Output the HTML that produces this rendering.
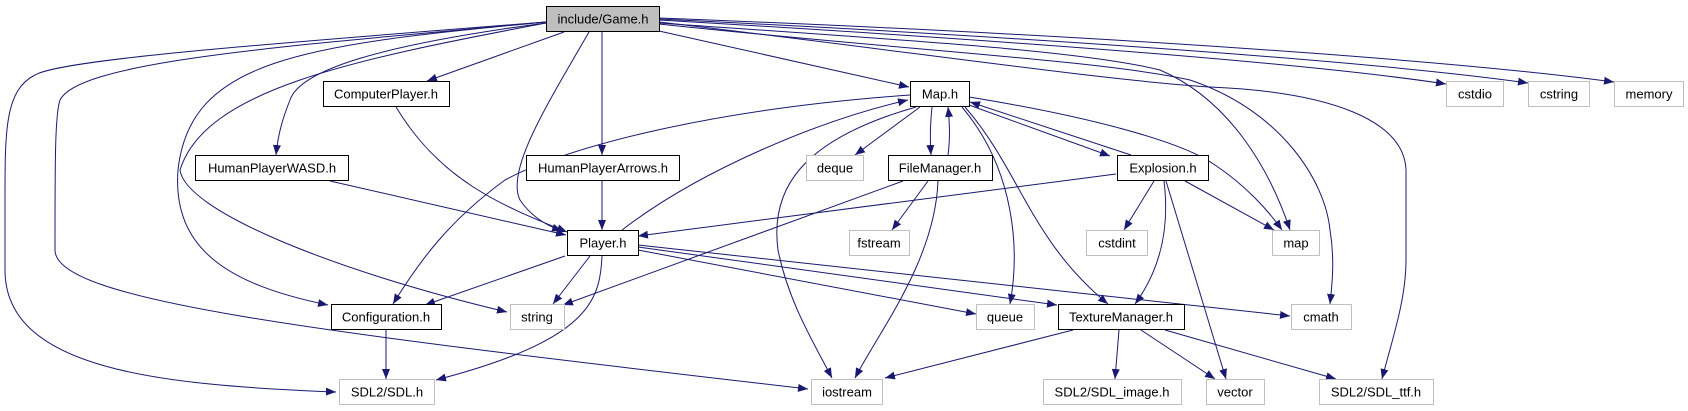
<!DOCTYPE html>
<html><head><meta charset="utf-8"><style>
html,body{margin:0;padding:0;background:#fff;}
svg{display:block;}
text{font-family:"Liberation Sans",sans-serif;font-size:13px;}
</style></head><body>
<svg width="1688" height="411" viewBox="0 0 1688 411" xmlns="http://www.w3.org/2000/svg">
<defs>
<marker id="a" viewBox="0 0 10 8" refX="10" refY="4" markerWidth="10" markerHeight="8" markerUnits="userSpaceOnUse" orient="auto">
<path d="M0,0 L10,4 L0,8 z" fill="#191970"/>
</marker>
</defs>
<g fill="none" stroke="#191970" stroke-width="1" marker-end="url(#a)">
<!-- from Game.h -->
<path d="M564,32 L427,81"/>
<path d="M546,23 C 380,45 300,70 290,100 C 282,120 278,135 276,155"/>
<path d="M602,31 L602,155"/>
<path d="M589,32 C 550,100 505,170 520,200 C 530,215 545,225 562,231"/>
<path d="M546,22 C 300,45 190,60 178,170 C 172,250 230,285 328,305"/>
<path d="M546,23 C 350,60 205,90 180,170 C 185,210 330,270 507,312"/>
<path d="M546,22 C 250,45 60,60 35,75 C 5,90 5,130 5,200 L5,270 C 5,370 160,385 336,392"/>
<path d="M546,22 C 300,45 80,60 60,100 C 55,115 55,160 55,250 C 55,300 300,330 808,389"/>
<path d="M659,31 L909,87"/>
<path d="M659,23 C 900,40 1080,50 1160,70 C 1230,100 1270,170 1290,230"/>
<path d="M659,24 C 900,50 1100,60 1190,80 C 1280,110 1325,180 1330,230 C 1335,260 1332,285 1330,304"/>
<path d="M659,22 C 900,50 1100,80 1210,87 C 1330,92 1404,120 1406,170 L1406,260 C 1406,300 1392,340 1382,379"/>
<path d="M659,20 C 1000,40 1300,62 1446,84"/>
<path d="M659,19 C 1050,38 1380,62 1528,83"/>
<path d="M659,18 C 1100,35 1450,60 1614,82"/>
<!-- from Player.h -->
<path d="M622,230 C 700,170 820,120 908,100"/>
<path d="M565,256 L425,305"/>
<path d="M590,256 L553,304"/>
<path d="M602,256 C 600,300 590,340 436,380"/>
<path d="M638,250 L976,314"/>
<path d="M638,247 L1057,305"/>
<path d="M638,245 L1290,316"/>
<!-- to Player.h -->
<path d="M396,107 C 440,180 500,205 567,232"/>
<path d="M330,181 L566,235"/>
<path d="M602,181 L602,230"/>
<path d="M1116,174 L638,236"/>
<!-- from Map.h -->
<path d="M910,95 C 700,110 560,150 505,180 C 450,220 420,260 393,304"/>
<path d="M920,107 L855,155"/>
<path d="M932,107 C 930,125 930,140 931,155"/>
<path d="M948,155 C 950,140 950,125 948,107"/>
<path d="M916,107 C 800,140 770,190 778,250 C 788,300 812,340 832,378"/>
<path d="M962,107 C 1015,170 1020,250 1010,304"/>
<path d="M965,107 C 1020,170 1030,240 1108,304"/>
<path d="M969,105 L1110,156"/>
<path d="M1131,155 L970,102"/>
<path d="M969,97 C 1080,115 1180,140 1215,165 C 1245,185 1268,210 1282,230"/>
<!-- FileManager -->
<path d="M928,181 L892,230"/>
<path d="M903,181 L563,305"/>
<path d="M938,181 C 935,260 880,330 855,378"/>
<!-- Explosion -->
<path d="M1154,181 L1124,230"/>
<path d="M1164,181 C 1170,230 1160,270 1135,304"/>
<path d="M1166,181 L1226,379"/>
<path d="M1185,181 L1274,230"/>
<!-- TextureManager -->
<path d="M1073,330 L885,378"/>
<path d="M1119,330 L1115,379"/>
<path d="M1141,330 L1215,379"/>
<path d="M1165,330 L1336,379"/>
<!-- Configuration -->
<path d="M386,330 L386,379"/>
</g>
<g stroke-width="1" text-anchor="middle">
<rect x="546.5" y="6.5" width="113" height="25" fill="#bfbfbf" stroke="#000"/>
<text x="603" y="23.5">include/Game.h</text>
<g fill="#fff" stroke="#000">
<rect x="323.5" y="81.5" width="126" height="25"/>
<rect x="195.5" y="155.5" width="153" height="25"/>
<rect x="526.5" y="155.5" width="153" height="25"/>
<rect x="567.5" y="230.5" width="71" height="25"/>
<rect x="331.5" y="304.5" width="110" height="25"/>
<rect x="910.5" y="81.5" width="59" height="25"/>
<rect x="888.5" y="155.5" width="104" height="25"/>
<rect x="1117.5" y="155.5" width="91" height="25"/>
<rect x="1058.5" y="304.5" width="126" height="25"/>
</g>
<g fill="#fff" stroke="#bfbfbf">
<rect x="510.5" y="304.5" width="54" height="25"/>
<rect x="339.5" y="379.5" width="95" height="25"/>
<rect x="811.5" y="379.5" width="71" height="25"/>
<rect x="806.5" y="155.5" width="57" height="25"/>
<rect x="1446.5" y="81.5" width="57" height="25"/>
<rect x="1528.5" y="81.5" width="61" height="25"/>
<rect x="1614.5" y="81.5" width="69" height="25"/>
<rect x="849.5" y="230.5" width="60" height="25"/>
<rect x="1086.5" y="230.5" width="61" height="25"/>
<rect x="1272.5" y="230.5" width="47" height="25"/>
<rect x="976.5" y="304.5" width="58" height="25"/>
<rect x="1291.5" y="304.5" width="60" height="25"/>
<rect x="1043.5" y="379.5" width="138" height="25"/>
<rect x="1206.5" y="379.5" width="58" height="25"/>
<rect x="1319.5" y="379.5" width="114" height="25"/>
</g>
<g fill="#000">
<text x="386" y="98.5">ComputerPlayer.h</text>
<text x="272" y="172.5">HumanPlayerWASD.h</text>
<text x="603" y="172.5">HumanPlayerArrows.h</text>
<text x="603" y="247.5">Player.h</text>
<text x="386" y="321.5">Configuration.h</text>
<text x="940" y="98.5">Map.h</text>
<text x="940" y="172.5">FileManager.h</text>
<text x="1163" y="172.5">Explosion.h</text>
<text x="1121" y="321.5">TextureManager.h</text>
<text x="537" y="321.5">string</text>
<text x="387" y="396.5">SDL2/SDL.h</text>
<text x="847" y="396.5">iostream</text>
<text x="835" y="172.5">deque</text>
<text x="1475" y="98.5">cstdio</text>
<text x="1559" y="98.5">cstring</text>
<text x="1649" y="98.5">memory</text>
<text x="879" y="247.5">fstream</text>
<text x="1117" y="247.5">cstdint</text>
<text x="1296" y="247.5">map</text>
<text x="1005" y="321.5">queue</text>
<text x="1321" y="321.5">cmath</text>
<text x="1112" y="396.5">SDL2/SDL_image.h</text>
<text x="1235" y="396.5">vector</text>
<text x="1376" y="396.5">SDL2/SDL_ttf.h</text>
</g>
</g>
</svg>
</body></html>
